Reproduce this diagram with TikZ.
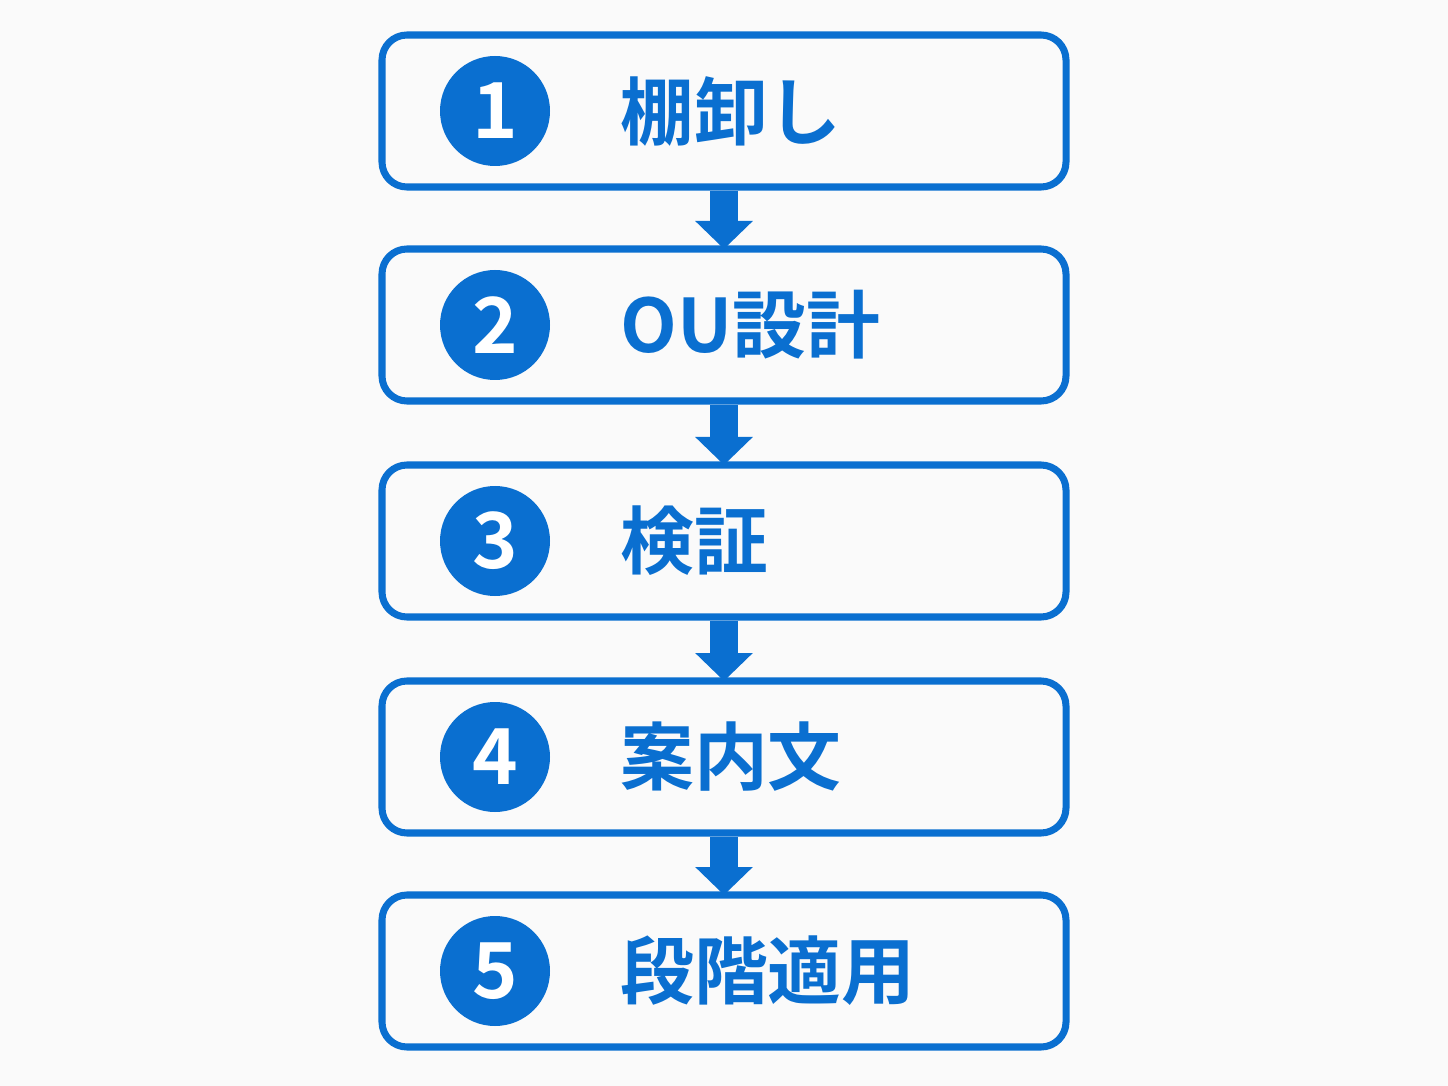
\documentclass[tikz,border=0pt]{standalone}
\usepackage{fontspec}
\newfontfamily\cjk{Noto Sans CJK JP Bold}
\usetikzlibrary{arrows.meta,positioning}
\definecolor{stepblue}{HTML}{0A6FD0}
\definecolor{bgcol}{HTML}{FAFAFA}
\tikzset{
  stagebox/.style={draw=stepblue, line width=4pt, rounded corners=0.5cm,
    minimum width=13.68cm, minimum height=3.04cm},
  stagenum/.style={circle, fill=stepblue, minimum size=2.2cm, inner sep=0pt,
    text=white, font=\cjk\fontsize{44}{44}\selectfont},
  stagetext/.style={anchor=west, text=stepblue, inner sep=0pt,
    font=\cjk\fontsize{42}{42}\selectfont},
  flow/.style={draw=stepblue, line width=15.9pt,
    -{Triangle[length=0.56cm, width=1.12cm]}, shorten >=-2pt}
}
\begin{document}
\begin{tikzpicture}
  \fill[bgcol] (0,0) rectangle (28.96,-21.72);
  \useasboundingbox (0,0) rectangle (28.96,-21.72);

  \node[stagebox] (s1) at (14.48,-2.22) {};
  \node[stagebox] (s2) at (14.48,-6.5) {};
  \node[stagebox] (s3) at (14.48,-10.82) {};
  \node[stagebox] (s4) at (14.48,-15.14) {};
  \node[stagebox] (s5) at (14.48,-19.42) {};

  \node[stagenum] (n1) at (9.9,-2.22) {1};
  \node[stagenum] (n2) at (9.9,-6.5) {2};
  \node[stagenum] (n3) at (9.9,-10.82) {3};
  \node[stagenum] (n4) at (9.9,-15.14) {4};
  \node[stagenum] (n5) at (9.9,-19.42) {5};

  \node[stagetext] (t1) at (12.4,-2.22) {棚卸し};
  \node[stagetext] (t2) at (12.4,-6.5) {OU設計};
  \node[stagetext] (t3) at (12.4,-10.82) {検証};
  \node[stagetext] (t4) at (12.4,-15.14) {案内文};
  \node[stagetext] (t5) at (12.4,-19.42) {段階適用};

  \draw[flow] (s1.south) -- (s2.north);
  \draw[flow] (s2.south) -- (s3.north);
  \draw[flow] (s3.south) -- (s4.north);
  \draw[flow] (s4.south) -- (s5.north);
\end{tikzpicture}
\end{document}
